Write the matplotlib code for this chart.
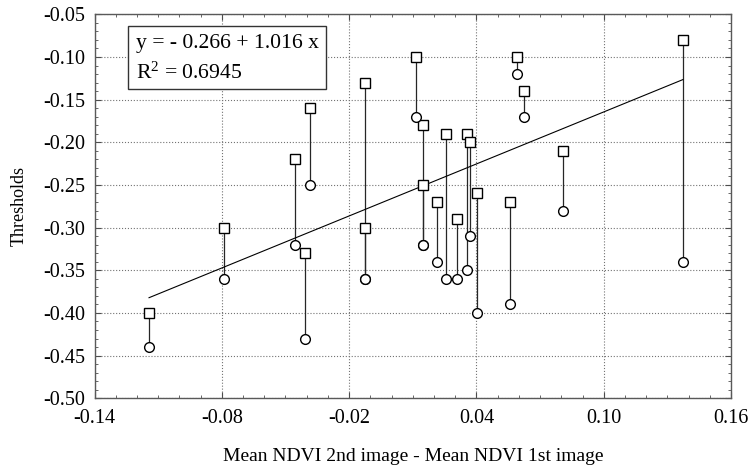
import numpy as np
import matplotlib
matplotlib.use("Agg")
import matplotlib.pyplot as plt
from matplotlib.patches import Rectangle
from matplotlib.ticker import MultipleLocator

# NDVI difference per site, with the threshold from each of the two methods
ndvi_diff = [-0.1143, -0.079, -0.0455, -0.041, -0.0386, -0.0127, -0.0127,
             0.0114, 0.0148, 0.0148, 0.0216, 0.0255, 0.0308, 0.0355,
             0.0368, 0.0403, 0.0557, 0.0591, 0.0623, 0.0808, 0.1373]
thr_square = [-0.40, -0.30, -0.22, -0.33, -0.16, -0.13, -0.30,
              -0.10, -0.18, -0.25, -0.27, -0.19, -0.29, -0.19,
              -0.20, -0.26, -0.27, -0.10, -0.14, -0.21, -0.08]
thr_circle = [-0.44, -0.36, -0.32, -0.43, -0.25, -0.36, -0.36,
              -0.17, -0.32, -0.32, -0.34, -0.36, -0.36, -0.35,
              -0.31, -0.40, -0.39, -0.12, -0.17, -0.28, -0.34]
x_ticks = [-0.14, -0.08, -0.02, 0.04, 0.10, 0.16]

intercept = -0.266
slope = 1.016
r2 = 0.6945

plt.rcParams['font.family'] = ['Liberation Serif', 'DejaVu Serif']
plt.rcParams['mathtext.fontset'] = 'custom'
plt.rcParams['mathtext.rm'] = 'Liberation Serif'

fig = plt.figure(figsize=(7.56, 4.68), dpi=100)
ax = fig.add_axes([0.125, 0.149, 0.842, 0.8204])

x = np.array(ndvi_diff)
ax.vlines(x, thr_circle, thr_square, color='0.15', lw=0.9, zorder=2)
ax.plot(x, thr_square, ls='none', marker='s', ms=7, mfc='white', mec='black',
        mew=1.0, zorder=3)
ax.plot(x, thr_circle, ls='none', marker='o', ms=7, mfc='white', mec='black',
        mew=1.0, zorder=3)

xf = np.array([x.min(), x.max()])
ax.plot(xf, intercept + slope * xf, color='black', lw=0.8, zorder=2)

ax.set_xlim(-0.14, 0.16)
ax.set_ylim(-0.50, -0.05)
ax.set_xticks(x_ticks)
ax.xaxis.set_minor_locator(MultipleLocator(0.01))
ax.yaxis.set_major_locator(MultipleLocator(0.05))
ax.yaxis.set_minor_locator(MultipleLocator(0.01))
ax.xaxis.set_major_formatter(lambda v, p: f"{v:.2f}")
ax.yaxis.set_major_formatter(lambda v, p: f"{v:.2f}")
ax.tick_params(which='both', direction='in', top=True, right=True,
               labelsize=14.5, color='0.3')
ax.tick_params(which='major', length=4)
ax.tick_params(axis='x', which='major', pad=8)
ax.tick_params(axis='y', which='major', pad=7)
ax.tick_params(which='minor', length=2.5)
ax.grid(True, which='major', ls=':', lw=0.8, color='0.45')
for s in ax.spines.values():
    s.set_color('0.35')
    s.set_linewidth(1.0)

ax.set_xlabel("Mean NDVI 2nd image - Mean NDVI 1st image", fontsize=14, labelpad=14)
ax.set_ylabel("Thresholds", fontsize=13, labelpad=11)

# equation box
ax.add_patch(Rectangle((0.053, 0.805), 0.31, 0.165, transform=ax.transAxes,
                       facecolor='white', edgecolor='0.2', lw=1.0, zorder=5))
ax.text(0.065, 0.924, f"y = - {abs(intercept):.3f} + {slope:.3f} x",
        transform=ax.transAxes, fontsize=15.6, va='center', ha='left', zorder=6)
ax.text(0.065, 0.846, r"$\mathregular{R^2}$" + f" = {r2:.4f}",
        transform=ax.transAxes, fontsize=15.6, va='center', ha='left', zorder=6)

fig.savefig("out.png", dpi=100)
